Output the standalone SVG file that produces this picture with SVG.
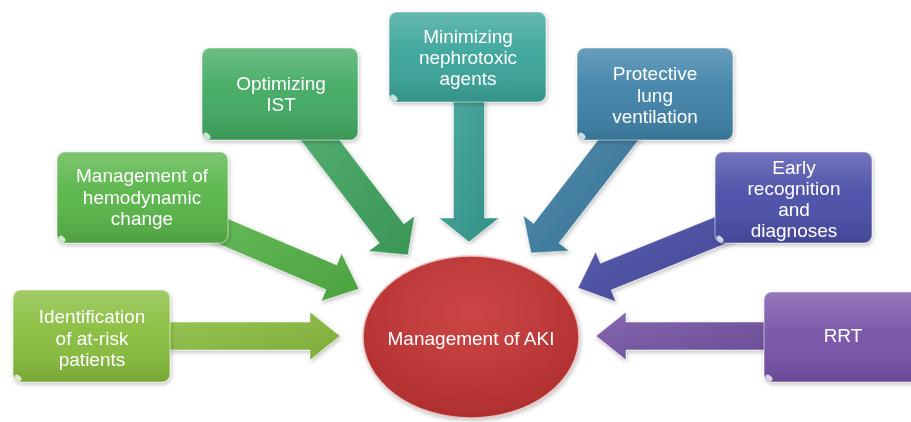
<svg xmlns="http://www.w3.org/2000/svg" width="911" height="422" viewBox="0 0 911 422">
<style>
  .lbl { font-family: "Liberation Sans", Arial, sans-serif; font-size: 19px; fill: #ffffff; text-anchor: middle; }
  .box { stroke-width: 1; }
  .gloss { fill: url(#gloss); stroke: rgba(255,255,255,0.45); stroke-width: 1.2; }
  .arr { stroke: rgba(255,255,255,0.55); stroke-width: 1; }
  .arrgloss { fill: url(#agloss); }
  .curl { fill: #ffffff; opacity: 0.75; }
</style>
<defs>
  <linearGradient id="gloss" x1="0" y1="0" x2="0" y2="1">
    <stop offset="0" stop-color="#ffffff" stop-opacity="0.22"/>
    <stop offset="0.45" stop-color="#ffffff" stop-opacity="0.04"/>
    <stop offset="1" stop-color="#000000" stop-opacity="0.12"/>
  </linearGradient>
  <linearGradient id="agloss" x1="0" y1="0" x2="1" y2="1">
    <stop offset="0" stop-color="#ffffff" stop-opacity="0.12"/>
    <stop offset="1" stop-color="#000000" stop-opacity="0.1"/>
  </linearGradient>
  <radialGradient id="eglow" cx="0.5" cy="0.35" r="0.65">
    <stop offset="0" stop-color="#ffffff" stop-opacity="0.08"/>
    <stop offset="1" stop-color="#000000" stop-opacity="0.12"/>
  </radialGradient>
  <filter id="shadow" x="-10%" y="-10%" width="125%" height="130%">
    <feDropShadow dx="1" dy="2" stdDeviation="2" flood-color="#000000" flood-opacity="0.25"/>
  </filter>
</defs>
<rect width="911" height="422" fill="#ffffff"/>

<g id="connectors" filter="url(#shadow)">
  <g id="arrow-identification">
    <polygon class="arr" fill="#8cbf40" points="160,322 310,322 310,312 340,336 310,360 310,350 160,350"/>
    <polygon class="arrgloss" points="160,322 310,322 310,312 340,336 310,360 310,350 160,350"/>
  </g>
  <g id="arrow-hemodynamic">
    <polygon class="arr" fill="#55b447" points="205.3,209.1 336.7,264.9 341.6,253.4 359,289 321.2,301.2 326.1,289.7 194.7,233.9"/>
    <polygon class="arrgloss" points="205.3,209.1 336.7,264.9 341.6,253.4 359,289 321.2,301.2 326.1,289.7 194.7,233.9"/>
  </g>
  <g id="arrow-ist">
    <polygon class="arr" fill="#40a760" points="317.0,110.6 403.9,224.1 414.6,215.9 408,255 368.6,251.2 379.3,243.0 292.4,129.4"/>
    <polygon class="arrgloss" points="317.0,110.6 403.9,224.1 414.6,215.9 408,255 368.6,251.2 379.3,243.0 292.4,129.4"/>
  </g>
  <g id="arrow-nephrotoxic">
    <polygon class="arr" fill="#38a196" points="453.5,90 453.5,218 439,218 469,242 499,218 484.5,218 484.5,90"/>
    <polygon class="arrgloss" points="453.5,90 453.5,218 439,218 469,242 499,218 484.5,218 484.5,90"/>
  </g>
  <g id="arrow-lung">
    <polygon class="arr" fill="#3d7fa5" points="621.1,110.2 533.6,223.4 523.3,215.5 531,253 569.2,250.9 559.0,243.0 646.5,129.8"/>
    <polygon class="arrgloss" points="621.1,110.2 533.6,223.4 523.3,215.5 531,253 569.2,250.9 559.0,243.0 646.5,129.8"/>
  </g>
  <g id="arrow-early">
    <polygon class="arr" fill="#484ca6" points="734.6,209.0 600.4,263.3 595.7,251.7 578,288 615.9,301.7 611.2,290.1 745.4,235.8"/>
    <polygon class="arrgloss" points="734.6,209.0 600.4,263.3 595.7,251.7 578,288 615.9,301.7 611.2,290.1 745.4,235.8"/>
  </g>
  <g id="arrow-rrt">
    <polygon class="arr" fill="#7654a6" points="780,322 626,322 626,312 596,336 626,360 626,350 780,350"/>
    <polygon class="arrgloss" points="780,322 626,322 626,312 596,336 626,360 626,350 780,350"/>
  </g>
</g>

<g id="node-identification" filter="url(#shadow)">
  <rect class="box" x="13" y="290" width="157" height="92" rx="8" fill="#88bd3d"/>
  <rect class="gloss" x="13" y="290" width="157" height="92" rx="8"/>
  <ellipse class="curl" cx="18" cy="378" rx="4" ry="2.5" transform="rotate(40 18 378)"/>
  <text class="lbl" x="92" y="323">Identification</text>
  <text class="lbl" x="92" y="345">of at-risk</text>
  <text class="lbl" x="92" y="366">patients</text>
</g>

<g id="node-hemodynamic" filter="url(#shadow)">
  <rect class="box" x="57" y="152" width="171" height="91" rx="8" fill="#57b548"/>
  <rect class="gloss" x="57" y="152" width="171" height="91" rx="8"/>
  <ellipse class="curl" cx="62" cy="239" rx="4" ry="2.5" transform="rotate(40 62 239)"/>
  <text class="lbl" x="142" y="182">Management of</text>
  <text class="lbl" x="142" y="204">hemodynamic</text>
  <text class="lbl" x="142" y="225">change</text>
</g>

<g id="node-ist" filter="url(#shadow)">
  <rect class="box" x="202" y="48" width="156" height="92" rx="8" fill="#42aa62"/>
  <rect class="gloss" x="202" y="48" width="156" height="92" rx="8"/>
  <ellipse class="curl" cx="207" cy="136" rx="4" ry="2.5" transform="rotate(40 207 136)"/>
  <text class="lbl" x="281" y="90">Optimizing</text>
  <text class="lbl" x="281" y="111">IST</text>
</g>

<g id="node-nephrotoxic" filter="url(#shadow)">
  <rect class="box" x="389" y="12" width="157" height="90" rx="8" fill="#3aa59a"/>
  <rect class="gloss" x="389" y="12" width="157" height="90" rx="8"/>
  <ellipse class="curl" cx="394" cy="98" rx="4" ry="2.5" transform="rotate(40 394 98)"/>
  <text class="lbl" x="468" y="43">Minimizing</text>
  <text class="lbl" x="468" y="64">nephrotoxic</text>
  <text class="lbl" x="468" y="85">agents</text>
</g>

<g id="node-lung" filter="url(#shadow)">
  <rect class="box" x="577" y="48" width="156" height="92" rx="8" fill="#3e82a8"/>
  <rect class="gloss" x="577" y="48" width="156" height="92" rx="8"/>
  <ellipse class="curl" cx="582" cy="136" rx="4" ry="2.5" transform="rotate(40 582 136)"/>
  <text class="lbl" x="655" y="80">Protective</text>
  <text class="lbl" x="655" y="102">lung</text>
  <text class="lbl" x="655" y="123">ventilation</text>
</g>

<g id="node-early" filter="url(#shadow)">
  <rect class="box" x="715" y="152" width="157" height="91" rx="8" fill="#4a4ea8"/>
  <rect class="gloss" x="715" y="152" width="157" height="91" rx="8"/>
  <ellipse class="curl" cx="720" cy="239" rx="4" ry="2.5" transform="rotate(40 720 239)"/>
  <text class="lbl" x="794" y="174">Early</text>
  <text class="lbl" x="794" y="195">recognition</text>
  <text class="lbl" x="794" y="216">and</text>
  <text class="lbl" x="794" y="237">diagnoses</text>
</g>

<g id="node-rrt" filter="url(#shadow)">
  <rect class="box" x="764" y="292" width="158" height="90" rx="8" fill="#7753a8"/>
  <rect class="gloss" x="764" y="292" width="158" height="90" rx="8"/>
  <ellipse class="curl" cx="769" cy="378" rx="4" ry="2.5" transform="rotate(40 769 378)"/>
  <text class="lbl" x="843" y="342">RRT</text>
</g>

<g id="node-aki" filter="url(#shadow)">
  <ellipse cx="471" cy="337" rx="108" ry="81" fill="#c73434" stroke="#f3c6c6" stroke-width="1.5"/>
  <ellipse cx="471" cy="337" rx="108" ry="81" fill="url(#eglow)"/>
  <text class="lbl" x="471" y="345">Management of AKI</text>
</g>
</svg>
